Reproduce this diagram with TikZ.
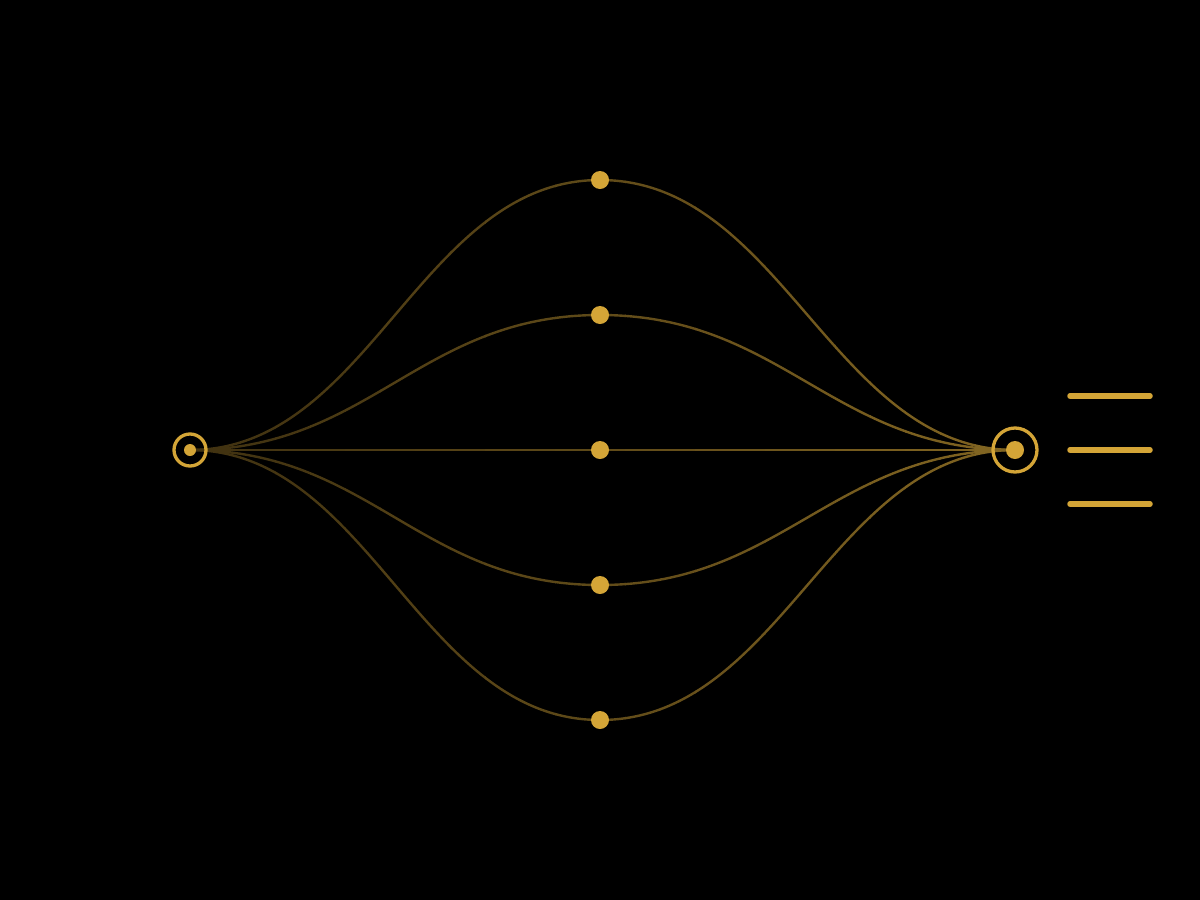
\documentclass[tikz,border=0pt]{standalone}
\definecolor{gold}{HTML}{D4A537}
\tikzset{
  ring/.style={circle,draw=gold,line width=3.3pt,fill=none,inner sep=0pt},
  dot/.style={circle,fill=gold,inner sep=0pt},
  edgeline/.style={line width=2.4pt},
  bar/.style={draw=gold,line width=5.5pt,line cap=round}
}
\newcommand{\alledges}{%
  \foreach \m in {m1,m2,m3,m4,m5}{%
    \draw[edgeline] (Lc) .. controls ($(Lc)+(180,0)$) and ($(\m)-(180,0)$) .. (\m)
      .. controls ($(\m)+(182,0)$) and ($(Rc)-(182,0)$) .. (Rc);
  }%
}
\usetikzlibrary{calc}
\begin{document}
\begin{tikzpicture}[x=1pt,y=-1pt]
\fill[black] (0,0) rectangle (1200,900);
\useasboundingbox (0,0) rectangle (1200,900);
\coordinate (Lc) at (190,450);
\coordinate (Rc) at (1015,450);
\coordinate (m1) at (600,180);
\coordinate (m2) at (600,315);
\coordinate (m3) at (600,450);
\coordinate (m4) at (600,585);
\coordinate (m5) at (600,720);
% edges with left-to-right fading
\foreach \i in {0,...,24}{
  \pgfmathsetmacro{\xa}{170+\i*35}
  \pgfmathsetmacro{\xb}{\xa+35.5}
  \pgfmathsetmacro{\fr}{(\xa+17-190)/825}
  \pgfmathsetmacro{\pc}{int(min(62,max(30,30+32*\fr)))}
  \begin{scope}
    \clip (\xa,100) rectangle (\xb,800);
    \begin{scope}[draw=gold!\pc!black]
      \alledges
    \end{scope}
  \end{scope}
}
% nodes
\node[ring,minimum size=32pt] (L) at (Lc) {};
\node[dot,minimum size=12pt] (Ld) at (Lc) {};
\node[ring,minimum size=44pt] (R) at (Rc) {};
\node[dot,minimum size=18pt] (Rd) at (Rc) {};
\foreach \m in {m1,m2,m3,m4,m5}
  \node[dot,minimum size=18pt] (d\m) at (\m) {};
% bars
\coordinate (b1a) at (1070,396); \coordinate (b1b) at (1150,396);
\coordinate (b2a) at (1070,450); \coordinate (b2b) at (1150,450);
\coordinate (b3a) at (1070,504); \coordinate (b3b) at (1150,504);
\draw[bar] (b1a) -- (b1b);
\draw[bar] (b2a) -- (b2b);
\draw[bar] (b3a) -- (b3b);
\end{tikzpicture}
\end{document}
